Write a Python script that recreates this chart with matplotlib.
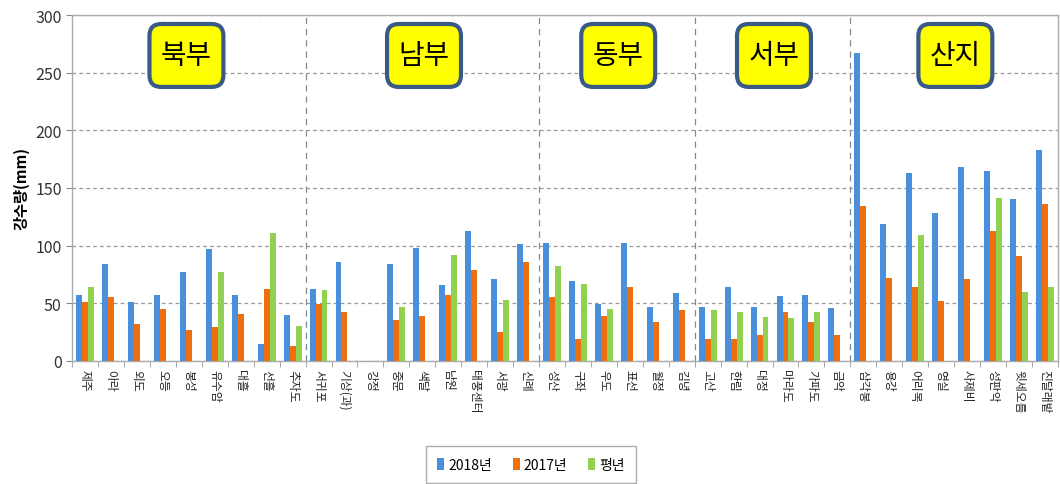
import matplotlib
matplotlib.use('Agg')
import matplotlib.pyplot as plt
from matplotlib.patches import FancyBboxPatch
import numpy as np

plt.rcParams['font.family'] = ['Noto Sans CJK KR', 'DejaVu Sans']

# stations (west to east within each region)
stations = ['제주', '아라', '외도', '오등', '봉성', '유수암', '대흘', '선흘', '추자도',
            '서귀포', '기상(과)', '강정', '중문', '색달', '남원', '태풍센터', '서광', '신례',
            '성산', '구좌', '우도', '표선', '월정', '김녕',
            '고산', '한림', '대정', '마라도', '가파도', '금악',
            '삼각봉', '용강', '어리목', '영실', '사제비', '성판악', '윗세오름', '진달래밭']

rain_2018 = [57, 84, 51, 57, 77, 97, 57, 15, 40,
             62, 86, np.nan, 84, 98, 66, 113, 71, 101,
             102, 69, 49, 102, 47, 59,
             47, 64, 47, 56, 57, 46,
             267, 119, 163, 128, 168, 165, 140, 183]
rain_2017 = [51, 55, 32, 45, 27, 29, 41, 62, 13,
             49, 42, np.nan, 35, 39, 57, 79, 25, 86,
             55, 19, 39, 64, 34, 44,
             19, 19, 22, 42, 34, 22,
             134, 72, 64, 52, 71, 113, 91, 136]
rain_normal = [64, np.nan, np.nan, np.nan, np.nan, 77, np.nan, 111, 30,
               61, np.nan, np.nan, 47, np.nan, 92, np.nan, 53, np.nan,
               82, 67, 45, np.nan, np.nan, np.nan,
               44, 42, 38, 37, 42, np.nan,
               np.nan, np.nan, 109, np.nan, np.nan, 141, 60, 64]

regions = ['북부', '남부', '동부', '서부', '산지']
region_pos = [0.116, 0.357, 0.554, 0.712, 0.896]
region_breaks = [9, 18, 24, 30]

fig = plt.figure(figsize=(10.6, 4.85), dpi=100)
ax = fig.add_axes([0.068, 0.254, 0.93, 0.713])

x = np.arange(len(stations))
w = 0.23
ax.bar(x - w, rain_2018, w, color='#4A8FDB', label='2018년', zorder=3)
ax.bar(x, rain_2017, w, color='#EE6F0F', label='2017년', zorder=3)
ax.bar(x + w, rain_normal, w, color='#92D050', label='평년', zorder=3)

ax.set_xlim(-0.5, len(stations) - 0.5)
ax.set_ylim(0, 300)
ax.set_yticks(np.arange(0, 301, 50))
ax.tick_params(axis='y', length=4, color='#888888', labelsize=11.5, labelcolor='#333333')
ax.yaxis.grid(True, linestyle=(0, (3, 2.5)), color='#999999', linewidth=0.9, zorder=0)

ax.set_xticks(x)
ax.set_xticklabels(stations, rotation=270, fontsize=8.5, color='#222222')
ax.tick_params(axis='x', length=0, pad=6)
ax.set_xticks(np.arange(-0.5, len(stations)), minor=True)
ax.tick_params(axis='x', which='minor', length=4, color='#999999')

for b in region_breaks:
    ax.axvline(b - 0.5, color='#888888', linestyle=(0, (5, 4)), linewidth=0.9, zorder=1)

for s in ax.spines.values():
    s.set_color('#aaaaaa')
    s.set_linewidth(1.0)

ax.set_ylabel('강수량(mm)', fontsize=11, fontweight='bold', labelpad=4)

# yellow region labels in rounded boxes
bw, bh = 0.075, 0.182
for name, px in zip(regions, region_pos):
    box = FancyBboxPatch((px - bw / 2, 0.883 - bh / 2), bw, bh,
                         boxstyle='round,pad=0,rounding_size=0.012',
                         mutation_aspect=2.85, transform=ax.transAxes,
                         fc='#FFFF00', ec='#3A5A86', lw=3, zorder=5)
    ax.add_patch(box)
    ax.text(px, 0.883, name, transform=ax.transAxes, ha='center', va='center',
            fontsize=20, color='black', zorder=6)

fig.legend(loc='center', bbox_to_anchor=(0.501, 0.04), ncol=3, fontsize=10,
           frameon=True, fancybox=False, edgecolor='#999999',
           handlelength=0.5, handleheight=0.9, handletextpad=0.3, columnspacing=1.5,
           borderpad=0.8)

fig.savefig('out.png', dpi=100)
